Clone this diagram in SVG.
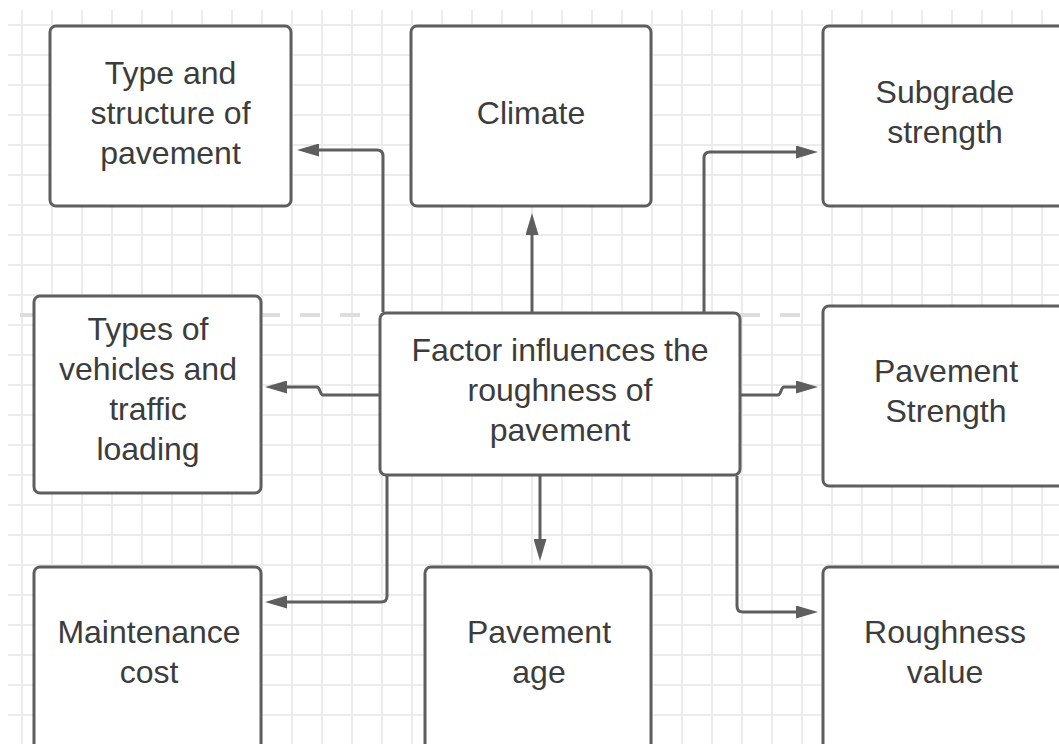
<svg xmlns="http://www.w3.org/2000/svg" width="1059" height="744" viewBox="0 0 1059 744">
<style>
.box{fill:#ffffff;stroke:#5e5e5e;stroke-width:3}
.lbl{font-family:"Liberation Sans",Arial,sans-serif;font-size:32px;fill:#3c3c3c;text-anchor:middle}
.conn{fill:none;stroke:#5e5e5e;stroke-width:3}
</style>
<defs>
<pattern id="grid" x="21" y="24" width="30" height="30" patternUnits="userSpaceOnUse">
<path d="M1,0 V30 M0,1 H30" fill="none" stroke="#ececec" stroke-width="2"/>
</pattern>
<marker id="arr" viewBox="0 0 22 13" refX="0" refY="6.5" markerWidth="22" markerHeight="13" markerUnits="userSpaceOnUse" orient="auto">
<path d="M0,0 L22,6.5 L0,13 z" fill="#5e5e5e"/>
</marker>
</defs>
<rect width="1059" height="744" fill="#ffffff"/>
<rect x="8" y="10" width="1051" height="734" fill="url(#grid)"/>
<line x1="20" y1="315" x2="810" y2="315" stroke="#dddddd" stroke-width="4" stroke-dasharray="20 20"/>
<g id="connectors">
<path class="conn" d="M383,312 V156 Q383,150 377,150 H319" marker-end="url(#arr)"/>
<path class="conn" d="M532,312 V235" marker-end="url(#arr)"/>
<path class="conn" d="M704,312 V158 Q704,152 710,152 H796" marker-end="url(#arr)"/>
<path class="conn" d="M380,395 H323 C320,395 320,387 317,387 H287" marker-end="url(#arr)"/>
<path class="conn" d="M740,395 H778 C781,395 781,387 784,387 H796" marker-end="url(#arr)"/>
<path class="conn" d="M387,476 V596 Q387,602 381,602 H287" marker-end="url(#arr)"/>
<path class="conn" d="M540,476 V539" marker-end="url(#arr)"/>
<path class="conn" d="M737,476 V606 Q737,612 743,612 H796" marker-end="url(#arr)"/>
</g>
<g id="type-structure">
<rect class="box" x="50" y="26" width="241" height="180" rx="6"/>
<text class="lbl" x="170.5" y="84">Type and</text>
<text class="lbl" x="170.5" y="124">structure of</text>
<text class="lbl" x="170.5" y="164">pavement</text>
</g>
<g id="climate">
<rect class="box" x="411" y="26" width="240" height="180" rx="6"/>
<text class="lbl" x="531" y="124">Climate</text>
</g>
<g id="subgrade">
<rect class="box" x="823" y="26" width="245" height="180" rx="6"/>
<text class="lbl" x="945" y="103">Subgrade</text>
<text class="lbl" x="945" y="143">strength</text>
</g>
<g id="vehicles">
<rect class="box" x="34" y="296" width="227" height="197" rx="6"/>
<text class="lbl" x="148" y="340">Types of</text>
<text class="lbl" x="148" y="380">vehicles and</text>
<text class="lbl" x="148" y="420">traffic</text>
<text class="lbl" x="148" y="460">loading</text>
</g>
<g id="center">
<rect class="box" x="380" y="313" width="360" height="162" rx="6"/>
<text class="lbl" x="560" y="361">Factor influences the</text>
<text class="lbl" x="560" y="401">roughness of</text>
<text class="lbl" x="560" y="441">pavement</text>
</g>
<g id="pavement-strength">
<rect class="box" x="823" y="306" width="245" height="180" rx="6"/>
<text class="lbl" x="946" y="382">Pavement</text>
<text class="lbl" x="946" y="422">Strength</text>
</g>
<g id="maintenance">
<rect class="box" x="34" y="567" width="227" height="200" rx="6"/>
<text class="lbl" x="149" y="643">Maintenance</text>
<text class="lbl" x="149" y="683">cost</text>
</g>
<g id="pavement-age">
<rect class="box" x="425" y="567" width="226" height="200" rx="6"/>
<text class="lbl" x="539" y="643">Pavement</text>
<text class="lbl" x="539" y="683">age</text>
</g>
<g id="roughness">
<rect class="box" x="823" y="567" width="245" height="200" rx="6"/>
<text class="lbl" x="945" y="643">Roughness</text>
<text class="lbl" x="945" y="683">value</text>
</g>
</svg>
